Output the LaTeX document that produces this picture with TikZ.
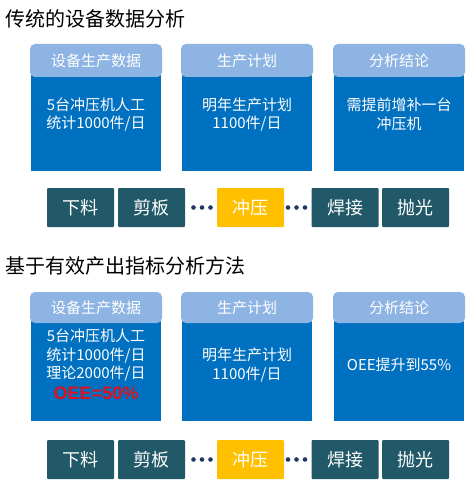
\documentclass[tikz,border=0pt]{standalone}
\usepackage{fontspec}
\setmainfont{Noto Sans CJK SC}
\newfontfamily\oeefont{Liberation Sans}
\definecolor{hdrblue}{HTML}{8DB4E2}
\definecolor{bodyblue}{HTML}{0070C0}
\definecolor{procteal}{HTML}{215968}
\definecolor{procyellow}{HTML}{FFC000}
\definecolor{dotblue}{HTML}{1F3864}
\definecolor{oeered}{HTML}{E0101E}
\begin{document}
\begin{tikzpicture}[x=1pt,y=-1pt,
  title/.style={anchor=west, inner sep=0pt, font=\fontsize{20}{24}\selectfont, text=black},
  hdr/.style={fill=hdrblue, rounded corners=5pt, minimum width=132pt, minimum height=33pt, inner sep=0pt, text=white, font=\fontsize{15}{18}\selectfont},
  panel/.style={fill=bodyblue, minimum width=130pt, inner sep=0pt},
  bodytext/.style={text=white, align=center, inner sep=0pt, font=\fontsize{15}{18.8}\selectfont},
  proc/.style={fill=procteal, minimum width=67pt, minimum height=39pt, inner sep=0pt, rounded corners=1pt, text=white, font=\fontsize{18}{20}\selectfont},
  prochi/.style={proc, fill=procyellow},
  dotc/.style={circle, fill=dotblue, minimum size=4.6pt, inner sep=0pt}
]
\useasboundingbox (0,0) rectangle (473,492);
\fill[white] (0,0) rectangle (473,492);

% ---------- Section 1 ----------
\node[title] (t1) at (5,19) {传统的设备数据分析};

\node[panel, minimum height=99pt] (b1) at (96,121.5) {};
\node[panel, minimum height=99pt] (b2) at (247,121.5) {};
\node[panel, minimum height=99pt] (b3) at (399,121.5) {};
\node[hdr] (h1) at (96,60.5) {设备生产数据};
\node[hdr] (h2) at (247,60.5) {生产计划};
\node[hdr] (h3) at (399,60.5) {分析结论};
\node[bodytext] (x1) at (96,114.5) {5台冲压机人工\\统计1000件/日};
\node[bodytext] (x2) at (247,114.5) {明年生产计划\\1100件/日};
\node[bodytext] (x3) at (399,114.5) {需提前增补一台\\冲压机};

\node[proc] (p1) at (80.5,207.5) {下料};
\node[proc] (p2) at (151.5,207.5) {剪板};
\node[dotc] (d1) at (193.5,207.5) {};
\node[dotc] (d2) at (202,207.5) {};
\node[dotc] (d3) at (210.5,207.5) {};
\node[prochi] (p3) at (250.5,207.5) {冲压};
\node[dotc] (d4) at (288,207.5) {};
\node[dotc] (d5) at (296.5,207.5) {};
\node[dotc] (d6) at (305,207.5) {};
\node[proc] (p4) at (345,207.5) {焊接};
\node[proc] (p5) at (415.5,207.5) {抛光};

% ---------- Section 2 ----------
\node[title] (t2) at (5,265.5) {基于有效产出指标分析方法};

\node[panel, minimum height=105pt] (c1) at (96,368.5) {};
\node[panel, minimum height=105pt] (c2) at (247,368.5) {};
\node[panel, minimum height=105pt] (c3) at (399,368.5) {};
\node[hdr, minimum height=31pt] (k1) at (96,307.5) {设备生产数据};
\node[hdr, minimum height=31pt] (k2) at (247,307.5) {生产计划};
\node[hdr, minimum height=31pt] (k3) at (399,307.5) {分析结论};
\node[bodytext, font=\fontsize{15}{18.5}\selectfont] (y1) at (96,355.5) {5台冲压机人工\\统计1000件/日\\理论2000件/日};
\node[inner sep=0pt, text=oeered, font=\oeefont\bfseries\fontsize{18}{20}\selectfont] (oee) at (96,393) {OEE=50\%};
\node[bodytext] (y2) at (247,365) {明年生产计划\\1100件/日};
\node[bodytext] (y3) at (399,365) {OEE提升到55\%};

\node[proc] (q1) at (80.5,459.5) {下料};
\node[proc] (q2) at (151.5,459.5) {剪板};
\node[dotc] (e1) at (193.5,459.5) {};
\node[dotc] (e2) at (202,459.5) {};
\node[dotc] (e3) at (210.5,459.5) {};
\node[prochi] (q3) at (250.5,459.5) {冲压};
\node[dotc] (e4) at (288,459.5) {};
\node[dotc] (e5) at (296.5,459.5) {};
\node[dotc] (e6) at (305,459.5) {};
\node[proc] (q4) at (345,459.5) {焊接};
\node[proc] (q5) at (415.5,459.5) {抛光};
\end{tikzpicture}
\end{document}
